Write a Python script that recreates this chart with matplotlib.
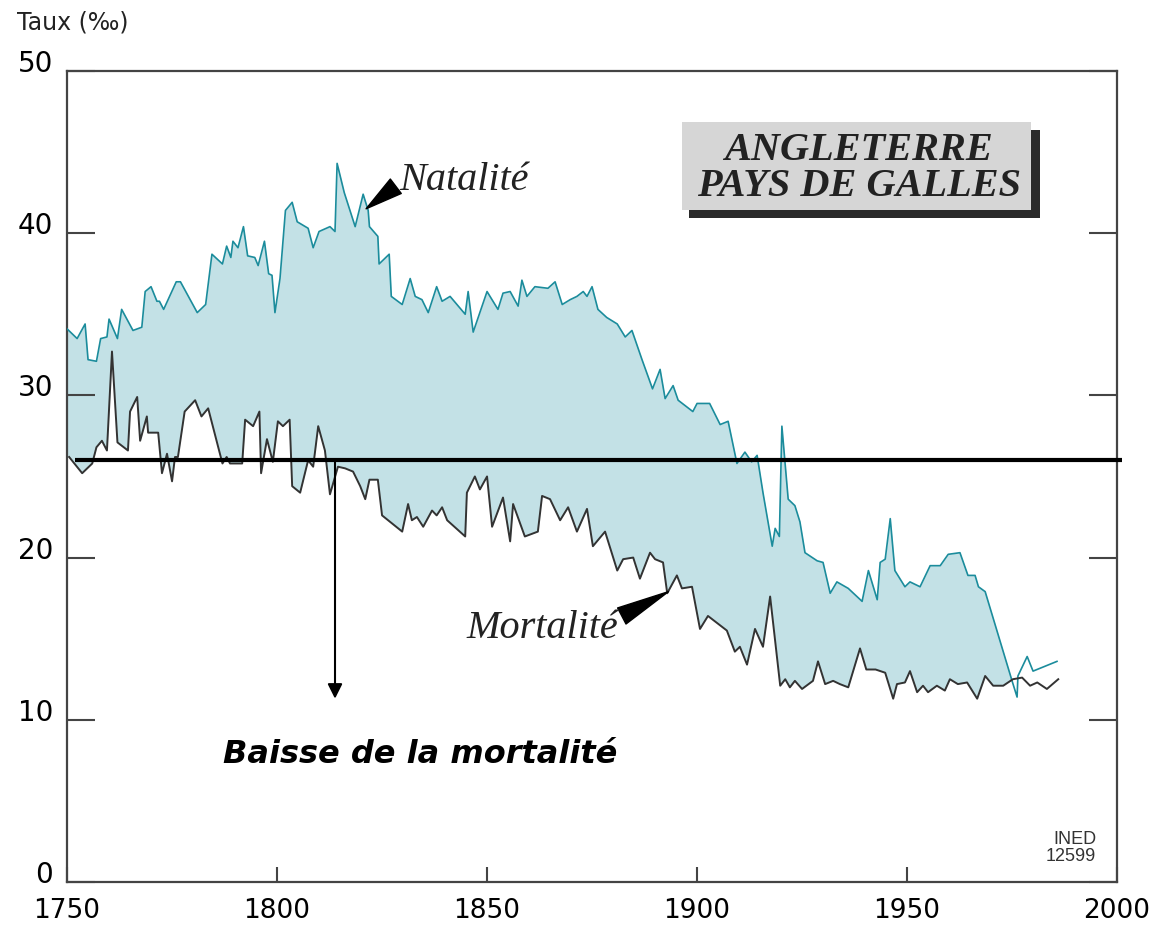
import matplotlib.pyplot as plt
import numpy as np
from matplotlib.patches import Rectangle

# natalité (birth rate, per mille)
nat_years = [1750, 1752.4, 1754.3, 1755, 1757, 1758, 1759.5, 1760, 1762, 1763,
             1765.7, 1767.8, 1768.6, 1770, 1771.4, 1772, 1773, 1776, 1777, 1781,
             1783, 1784.5, 1787, 1788, 1789, 1789.5, 1790.7, 1792, 1793, 1794.7,
             1795.5, 1797, 1798, 1798.8, 1799.5, 1800.7, 1802, 1803.6, 1804.8, 1807.4,
             1808.6, 1810, 1812.6, 1813.8, 1814.3, 1816, 1818.6, 1820.5, 1821.7, 1822,
             1824, 1824.3, 1826.7, 1827.2, 1829.8, 1831.7, 1832.9, 1834.5, 1836, 1838,
             1839.3, 1841.2, 1844.8, 1845.5, 1846.7, 1850, 1852.6, 1853.8, 1855.5, 1857.4,
             1858.3, 1859.5, 1861.4, 1864.5, 1866.2, 1867.9, 1869.8, 1871.4, 1872.9, 1873.8,
             1875, 1876.4, 1878.5, 1881, 1882.9, 1884.5, 1886.9, 1889.4, 1891.2, 1892.4,
             1894.3, 1895.5, 1899, 1900, 1903, 1905.5, 1907.4, 1909.5, 1911.4, 1913,
             1914.3, 1915.7, 1917.9, 1918.6, 1919.6, 1920.2, 1921.7, 1923.3, 1924.5, 1925.7,
             1928.6, 1930, 1931.7, 1933.3, 1936, 1939.3, 1940.8, 1942.9, 1943.6, 1944.8,
             1946, 1947.1, 1949.5, 1950.7, 1953.1, 1955.5, 1957.9, 1959.8, 1962.6, 1964.5,
             1966.2, 1967, 1968.6, 1975, 1976.2, 1976.4, 1978.6, 1980, 1985.7]
nat_rate = [34.1, 33.5, 34.4, 32.2, 32.1, 33.5, 33.6, 34.7, 33.5, 35.3,
            34.0, 34.2, 36.4, 36.7, 35.8, 35.8, 35.3, 37.0, 37.0, 35.1,
            35.6, 38.7, 38.1, 39.2, 38.5, 39.5, 39.1, 40.4, 38.6, 38.5,
            38.0, 39.5, 37.5, 37.4, 35.1, 37.2, 41.4, 41.9, 40.7, 40.3,
            39.1, 40.1, 40.4, 40.1, 44.3, 42.5, 40.4, 42.4, 41.4, 40.4,
            39.8, 38.1, 38.7, 36.1, 35.6, 37.2, 36.1, 35.9, 35.1, 36.7,
            35.8, 36.1, 35.0, 36.4, 33.9, 36.4, 35.3, 36.3, 36.4, 35.5,
            37.1, 36.1, 36.7, 36.6, 37.0, 35.6, 35.9, 36.1, 36.4, 36.1,
            36.7, 35.3, 34.8, 34.4, 33.6, 34.0, 32.2, 30.4, 31.6, 29.8,
            30.6, 29.7, 29.0, 29.5, 29.5, 28.2, 28.4, 25.8, 26.5, 25.9,
            26.3, 24.0, 20.7, 21.8, 21.3, 28.1, 23.6, 23.2, 22.2, 20.3,
            19.8, 19.7, 17.8, 18.5, 18.1, 17.3, 19.2, 17.4, 19.7, 19.9,
            22.4, 19.2, 18.2, 18.5, 18.2, 19.5, 19.5, 20.2, 20.3, 18.9,
            18.9, 18.2, 17.9, 12.4, 11.4, 12.7, 13.9, 13.0, 13.6]

# mortalité (death rate, per mille)
mort_years = [1750.5, 1753.6, 1756, 1757, 1758.3, 1759.5, 1760.7, 1762, 1764.5, 1765,
              1766.7, 1767.4, 1769, 1769.3, 1771.7, 1772.6, 1773.8, 1775, 1775.7, 1776.4,
              1778, 1780.5, 1782, 1783.6, 1787, 1788, 1788.8, 1791.7, 1792.4, 1794.3,
              1795.8, 1796.2, 1797.6, 1799, 1800.2, 1801.4, 1803, 1803.6, 1805.5, 1807.4,
              1808.6, 1809.8, 1811.4, 1812.6, 1814.5, 1816.2, 1818.1, 1819.8, 1821, 1822,
              1824, 1825, 1829.8, 1831.2, 1832.1, 1833.3, 1834.8, 1836.9, 1838, 1839.3,
              1840.5, 1844.8, 1845.2, 1847.1, 1848.3, 1850, 1851.2, 1853.8, 1855.5, 1856.2,
              1859, 1862.1, 1863.1, 1865, 1867.4, 1869.3, 1871.4, 1873.8, 1875.2, 1878.1,
              1881, 1882.4, 1884.8, 1886.4, 1888.8, 1890, 1891.9, 1892.9, 1895.2, 1896.4,
              1898.8, 1900.7, 1902.6, 1907.1, 1909, 1910.2, 1911.9, 1913.8, 1915.7, 1917.4,
              1919.8, 1921, 1922.1, 1923.3, 1925, 1927.6, 1928.8, 1930.5, 1932.4, 1934,
              1936, 1938.8, 1940.3, 1942.5, 1944.8, 1946.7, 1947.6, 1949.5, 1950.7, 1952.4,
              1953.8, 1955, 1957.1, 1959, 1960.2, 1962.1, 1964.3, 1966.7, 1968.6, 1970.5,
              1972.9, 1975.2, 1977.4, 1979.3, 1981, 1983.3, 1986]
mort_rate = [26.2, 25.2, 25.8, 26.8, 27.2, 26.6, 32.7, 27.1, 26.6, 29.0,
             29.9, 27.2, 28.7, 27.7, 27.7, 25.2, 26.4, 24.7, 26.2, 26.2,
             29.0, 29.7, 28.7, 29.2, 25.8, 26.2, 25.8, 25.8, 28.5, 28.1,
             29.0, 25.2, 27.3, 25.9, 28.4, 28.1, 28.5, 24.4, 24.0, 26.0,
             25.6, 28.1, 26.6, 23.9, 25.6, 25.5, 25.3, 24.4, 23.6, 24.8,
             24.8, 22.6, 21.6, 23.3, 22.3, 22.5, 21.9, 22.9, 22.6, 23.1,
             22.3, 21.3, 24.0, 25.0, 24.2, 25.0, 21.9, 23.7, 21.0, 23.3,
             21.3, 21.6, 23.8, 23.6, 22.3, 23.1, 21.6, 23.0, 20.7, 21.6,
             19.2, 19.9, 20.0, 18.7, 20.3, 19.9, 19.7, 17.8, 18.9, 18.1,
             18.2, 15.6, 16.4, 15.5, 14.2, 14.5, 13.4, 15.6, 14.5, 17.6,
             12.1, 12.5, 12.0, 12.4, 11.9, 12.4, 13.6, 12.2, 12.4, 12.2,
             12.0, 14.4, 13.1, 13.1, 12.9, 11.3, 12.2, 12.3, 13.0, 11.7,
             12.1, 11.7, 12.1, 11.8, 12.5, 12.2, 12.3, 11.3, 12.7, 12.1,
             12.1, 12.5, 12.6, 12.1, 12.3, 11.9, 12.5]

x_ticks = [1750, 1800, 1850, 1900, 1950, 2000]
y_ticks = [0, 10, 20, 30, 40, 50]
threshold = 26.0        # thick horizontal reference line
arrow_year = 1813.8     # "Baisse de la mortalité" arrow
arrow_end = 11.3

nat_color = '#1b8c9c'
fill_color = '#c3e1e6'
mort_color = '#333333'

fig = plt.figure(figsize=(11.56, 9.28), dpi=100)
ax = fig.add_axes([0.058, 0.0485, 0.9083, 0.874])

# shaded gap between the two rates
xs = np.union1d(nat_years, mort_years)
n = np.interp(xs, nat_years, nat_rate)
m = np.interp(xs, mort_years, mort_rate)
ax.fill_between(xs, m, n, where=(n >= m) & (xs < 1976), interpolate=True,
                color=fill_color, lw=0, zorder=1)

ax.plot(nat_years, nat_rate, color=nat_color, lw=1.2, zorder=3)
ax.plot(mort_years, mort_rate, color=mort_color, lw=1.4, zorder=3)

ax.plot([1751.9, 2001.2], [threshold, threshold], color='black', lw=3,
        clip_on=False, zorder=5, solid_capstyle='butt')
ax.annotate('', xy=(arrow_year, arrow_end), xytext=(arrow_year, threshold),
            arrowprops=dict(arrowstyle='-|>', color='black', lw=1.5,
                            mutation_scale=22, shrinkA=0, shrinkB=0), zorder=5)
ax.text(1834, 7.9, 'Baisse de la mortalité', ha='center', va='center',
        fontsize=23, fontweight='bold', style='italic', family='DejaVu Sans')

wedge = 'wedge,tail_width=0.45,shrink_factor=0.5'
ax.annotate('Natalité', xy=(1821.2, 41.5), xytext=(1829.2, 43.3),
            fontsize=29, style='italic', family='Liberation Serif', color='#222222',
            va='center', ha='left',
            arrowprops=dict(arrowstyle=wedge, color='black', shrinkA=1, shrinkB=0,
                            relpos=(0.0, 0.4)))
ax.annotate('Mortalité', xy=(1893.2, 17.9), xytext=(1845, 15.7),
            fontsize=29, style='italic', family='Liberation Serif', color='#222222',
            va='center', ha='left',
            arrowprops=dict(arrowstyle=wedge, color='black', shrinkA=1, shrinkB=0,
                            relpos=(1.0, 0.75)))

# title box with drop shadow
ax.add_patch(Rectangle((0.592, 0.819), 0.335, 0.1085, transform=ax.transAxes,
                       facecolor='#2a2a2a', edgecolor='none', zorder=6))
ax.add_patch(Rectangle((0.586, 0.829), 0.332, 0.1075, transform=ax.transAxes,
                       facecolor='#d6d6d6', edgecolor='none', zorder=7))
ax.text(0.754, 0.881, 'ANGLETERRE\nPAYS DE GALLES', transform=ax.transAxes,
        ha='center', va='center', fontsize=29, fontweight='bold', style='italic',
        family='Liberation Serif', color='#222222', linespacing=0.98, zorder=8)

ax.text(0.98, 0.022, 'INED\n12599', transform=ax.transAxes, ha='right', va='bottom',
        fontsize=13, color='#333333', family='Liberation Sans', linespacing=1.0)

fig.text(0.015, 0.976, 'Taux (‰)', ha='left', va='center', fontsize=17,
         family='DejaVu Sans', color='#222222')

ax.set_xlim(1750, 2000)
ax.set_ylim(0, 50)
ax.set_xticks(x_ticks)
ax.set_yticks(y_ticks)
ax.tick_params(axis='y', which='both', direction='in', length=20, width=1.5,
               left=True, right=True, labelsize=20, pad=10, color='#444444')
ax.tick_params(axis='x', direction='in', length=11, width=1.5, labelsize=19,
               pad=11, color='#444444')
for lbl in ax.get_yticklabels():
    lbl.set_va('baseline')
for sp in ax.spines.values():
    sp.set_linewidth(1.6)
    sp.set_color('#444444')

fig.savefig('out.png', dpi=100)
